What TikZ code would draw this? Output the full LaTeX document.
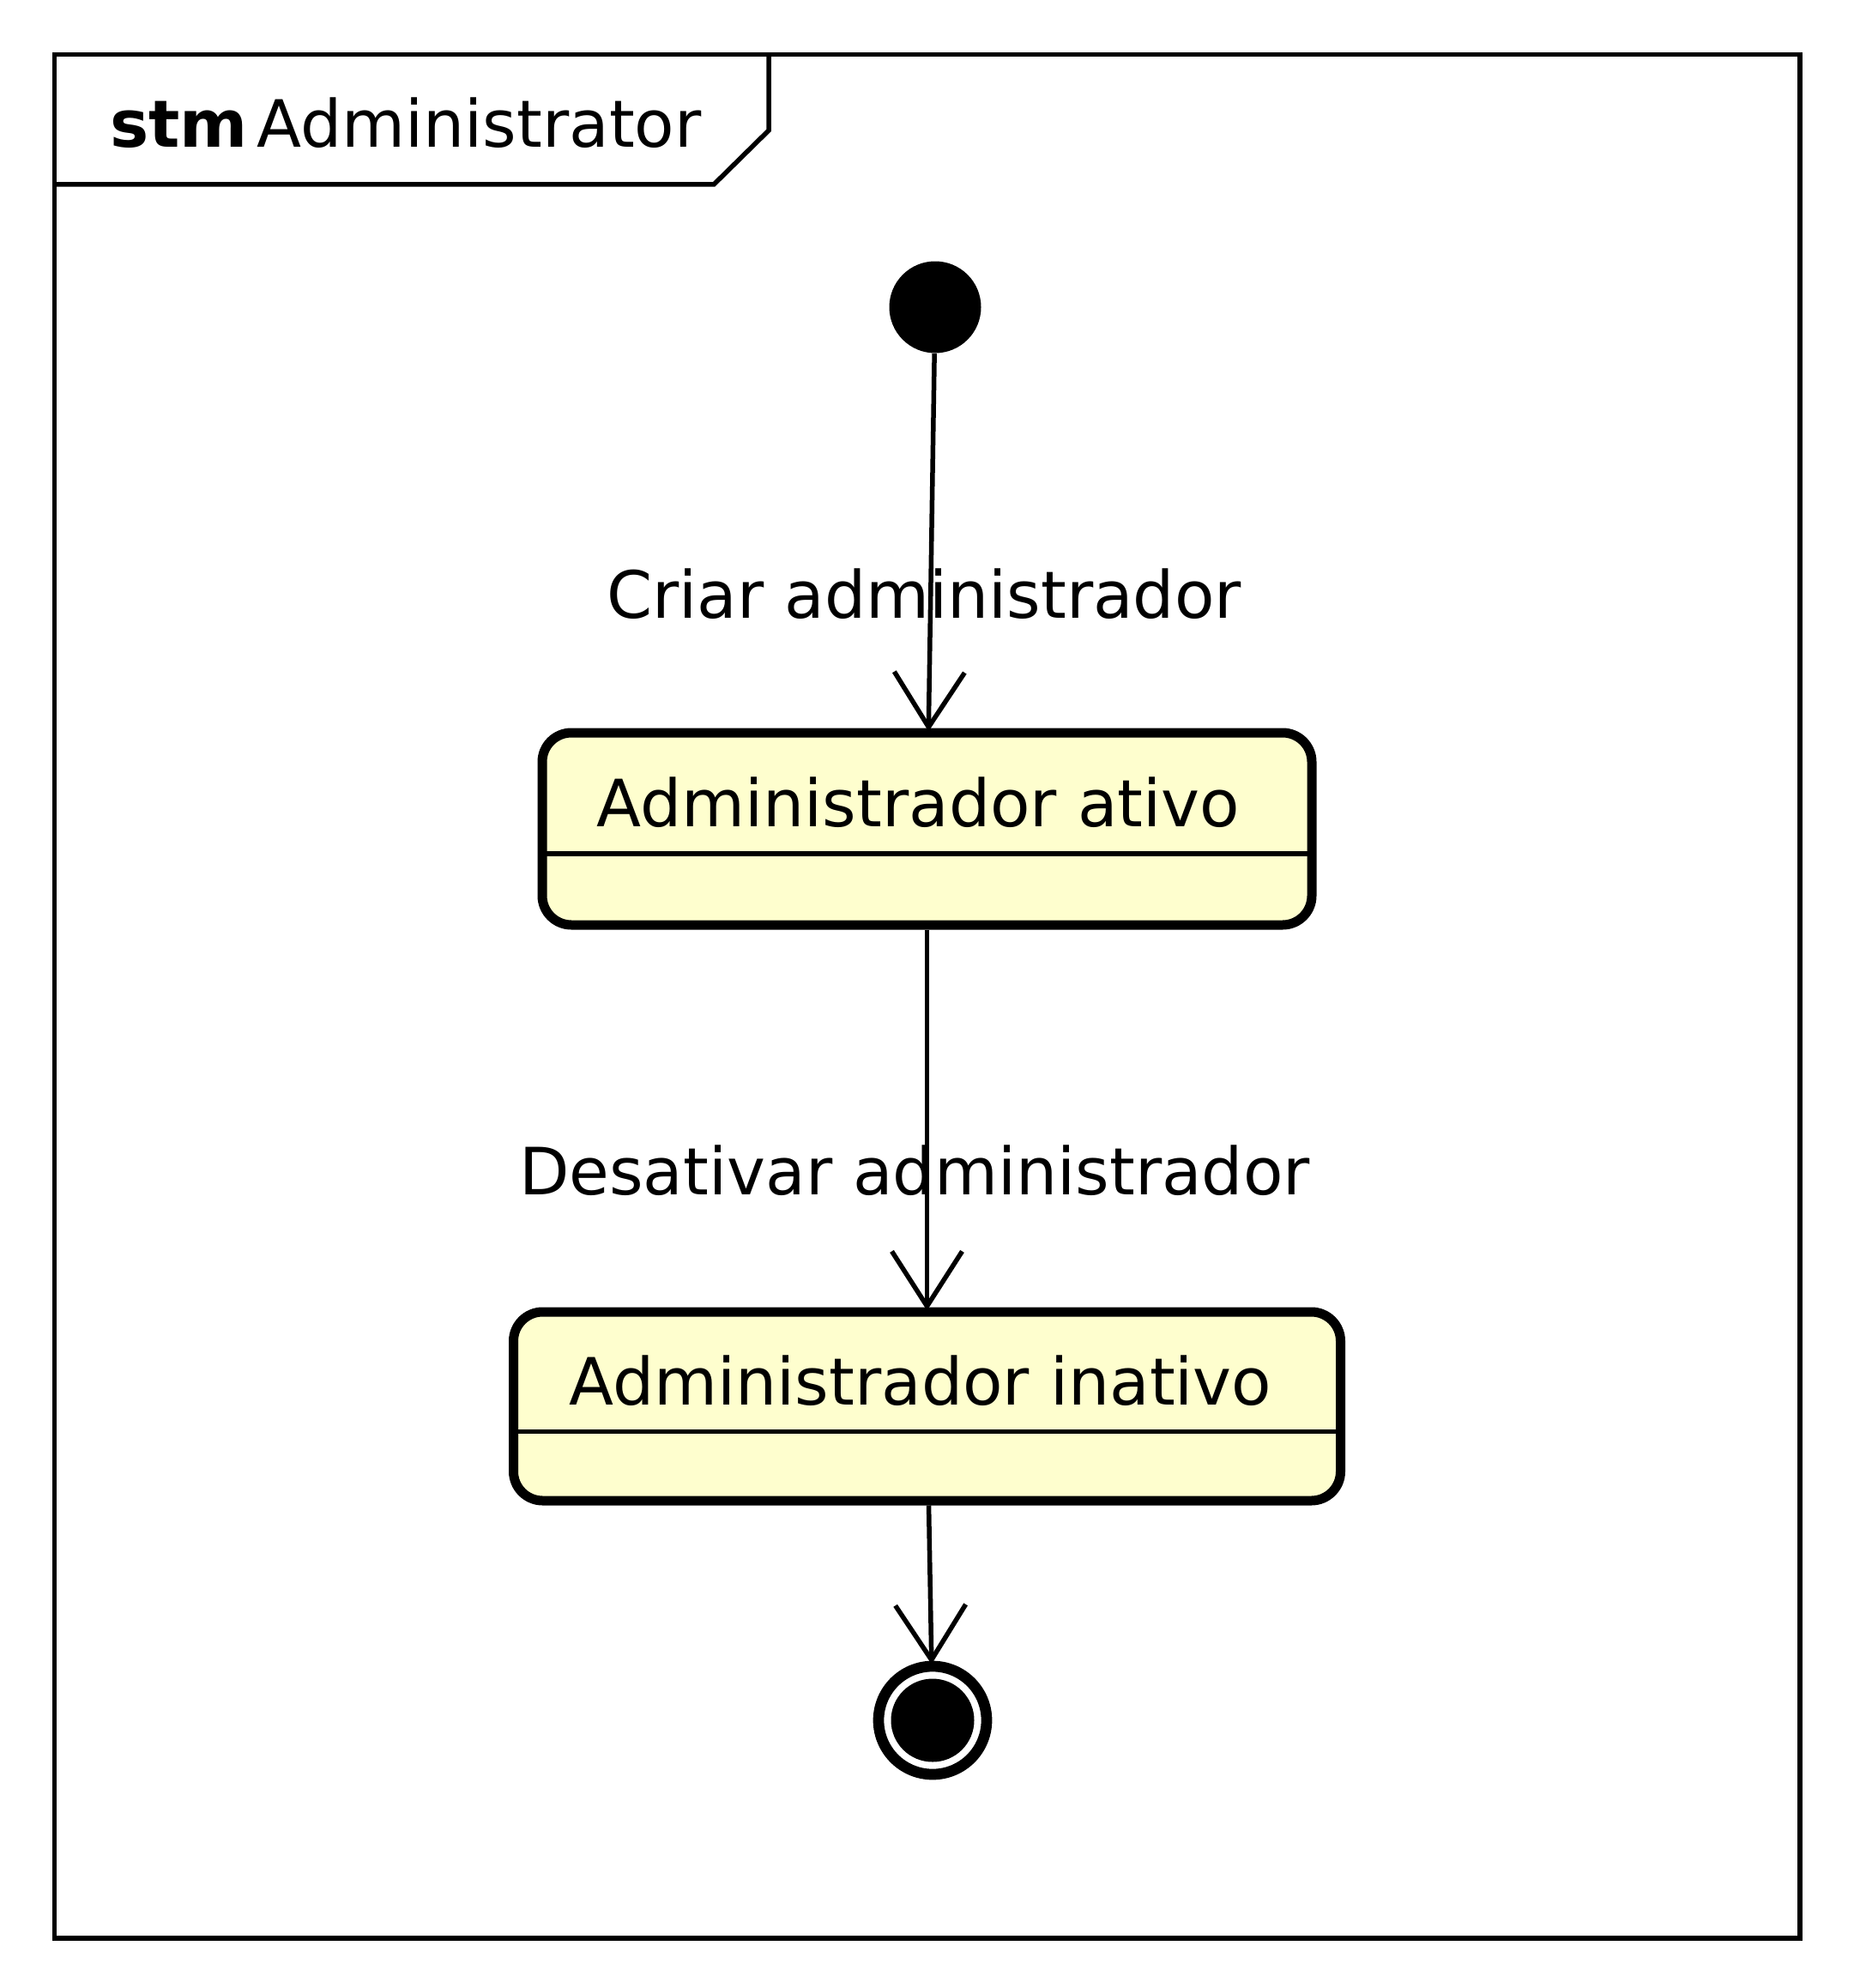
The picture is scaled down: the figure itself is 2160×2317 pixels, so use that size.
\documentclass[tikz,border=0pt]{standalone}
\usepackage{fontspec}
\setmainfont{DejaVu Sans}
\usetikzlibrary{arrows.meta}
\definecolor{statefill}{HTML}{FEFECE}
\tikzset{
  frameline/.style={line width=2.75pt},
  divider/.style={line width=2.75pt, shorten <=2.75pt, shorten >=2.75pt},
  statebox/.style={draw, fill=statefill, line width=5.5pt, rounded corners=17pt,
    minimum width=#1, minimum height=112pt, inner sep=0pt},
  trans/.style={line width=2.75pt, shorten >=-2pt,
    -{Straight Barb[length=32pt, width=41pt]}},
  txt/.style={inner sep=0pt, font=\fontsize{38}{46}\selectfont}
}
\begin{document}
\begin{tikzpicture}[x=0.5pt, y=-0.5pt]

    \useasboundingbox (0,0) rectangle (2160,2317);

    % Frame and tab
    \draw[frameline] (63.5,63.5) rectangle (2098,2259);
    \draw[frameline] (63.5,215) -- (832,215) -- (896,152) -- (896,63.5);
    \node[txt, anchor=base west] (kind) at (128,172) {\textbf{stm}};
    \node[txt, anchor=base west] (title) at (299,172) {Administrator};

    % Initial and final states
    \node[circle, fill, minimum size=53.5pt, inner sep=0pt] (init) at (1090,358) {};
    \node[circle, draw, line width=6.35pt, minimum size=63pt, inner sep=0pt] (final) at (1087,2005) {};
    \node[circle, fill, minimum size=48.5pt, inner sep=0pt] (finalcore) at (final) {};

    % States
    \node[statebox=448.5pt] (ativo) at (1080.5,966) {};
    \node[txt, anchor=base west] (ativoname) at (695,963) {Administrador ativo};
    \draw[divider] (ativo.west |- 0,995) -- (ativo.east |- 0,995);

    \node[statebox=482pt, minimum height=110pt] (inativo) at (1080.5,1639) {};
    \node[txt, anchor=base west] (inativoname) at (663,1637) {Administrador inativo};
    \draw[divider] (inativo.west |- 0,1668.5) -- (inativo.east |- 0,1668.5);

    % Transitions
    \draw[trans] (init) -- (ativo);
    \draw[trans] (ativo) -- (inativo);
    \draw[trans] (inativo) -- (final);

    \node[txt, anchor=base] (criar) at (1077,720) {Criar administrador};
    \node[txt, anchor=base] (desativar) at (1066,1392) {Desativar administrador};

\end{tikzpicture}
\end{document}
